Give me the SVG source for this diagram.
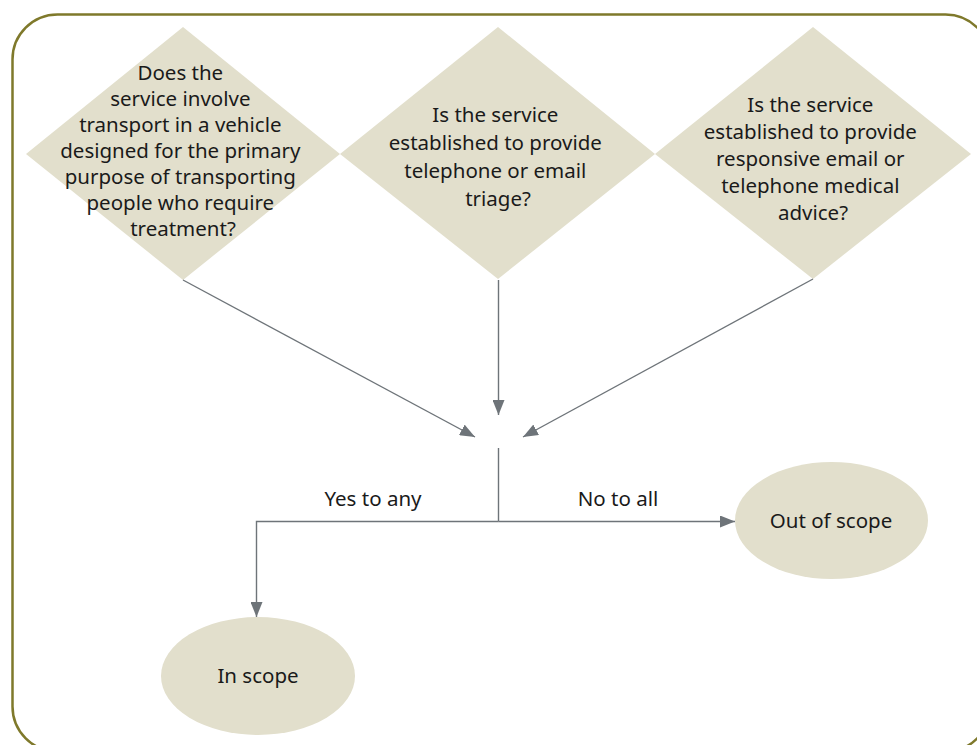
<svg xmlns="http://www.w3.org/2000/svg" width="977" height="745" viewBox="0 0 977 745">
  <defs>
    <style>
      .frame { fill: none; stroke: #7f792b; stroke-width: 2.5; }
      .node { fill: #e2dfcc; stroke: none; }
      .label { font-family: "Noto Sans", "Open Sans", sans-serif; font-size: 20.5px; fill: #1a1a1a; text-anchor: middle; }
      .link { fill: none; stroke: #6e7479; stroke-width: 1.4; }
    </style>
    <marker id="arrow" viewBox="0 0 15 12" refX="15" refY="6" markerWidth="15" markerHeight="12" markerUnits="userSpaceOnUse" orient="auto">
      <path d="M0,0 L15,6 L0,12 Z" fill="#6e7479"/>
    </marker>
  </defs>

  <!-- outer frame -->
  <rect class="frame" x="12.5" y="14.5" width="978" height="737" rx="45" ry="45"/>

  <!-- decision: transport vehicle -->
  <g id="q-transport">
    <polygon class="node" points="183,27 340,154 183,280 26,154"/>
    <text class="label">
      <tspan x="183" y="80">Does the</tspan>
      <tspan x="183" y="106">service involve</tspan>
      <tspan x="183" y="132">transport in a vehicle</tspan>
      <tspan x="183" y="158">designed for the primary</tspan>
      <tspan x="183" y="184">purpose of transporting</tspan>
      <tspan x="183" y="210">people who require</tspan>
      <tspan x="183" y="236">treatment?</tspan>
    </text>
  </g>

  <!-- decision: triage -->
  <g id="q-triage">
    <polygon class="node" points="498,27 655,154 498,279 340,154"/>
    <text class="label">
      <tspan x="498" y="122">Is the service</tspan>
      <tspan x="498" y="150">established to provide</tspan>
      <tspan x="498" y="178">telephone or email</tspan>
      <tspan x="498" y="206">triage?</tspan>
    </text>
  </g>

  <!-- decision: medical advice -->
  <g id="q-advice">
    <polygon class="node" points="813,27 971,154 813,279 655,154"/>
    <text class="label">
      <tspan x="813" y="112">Is the service</tspan>
      <tspan x="813" y="139">established to provide</tspan>
      <tspan x="813" y="166">responsive email or</tspan>
      <tspan x="813" y="193">telephone medical</tspan>
      <tspan x="813" y="220">advice?</tspan>
    </text>
  </g>

  <!-- outcomes -->
  <g id="out-of-scope">
    <ellipse class="node" cx="831.5" cy="520.5" rx="96.5" ry="58.5"/>
    <text class="label" x="831" y="528">Out of scope</text>
  </g>

  <g id="in-scope">
    <ellipse class="node" cx="258" cy="676" rx="97" ry="59"/>
    <text class="label" x="258" y="683">In scope</text>
  </g>

  <!-- connectors -->
  <g id="connectors">
    <line class="link" x1="183" y1="280" x2="475" y2="437" marker-end="url(#arrow)"/>
    <line class="link" x1="498.5" y1="280" x2="498.5" y2="415" marker-end="url(#arrow)"/>
    <line class="link" x1="813" y1="279" x2="523" y2="437" marker-end="url(#arrow)"/>
    <line class="link" x1="498.5" y1="448" x2="498.5" y2="521.5"/>
    <polyline class="link" points="498.5,521.5 256.5,521.5 256.5,617" marker-end="url(#arrow)"/>
    <line class="link" x1="498.5" y1="521.5" x2="735" y2="521.5" marker-end="url(#arrow)"/>
    <text class="label" x="373" y="506">Yes to any</text>
    <text class="label" x="618" y="506">No to all</text>
  </g>
</svg>
